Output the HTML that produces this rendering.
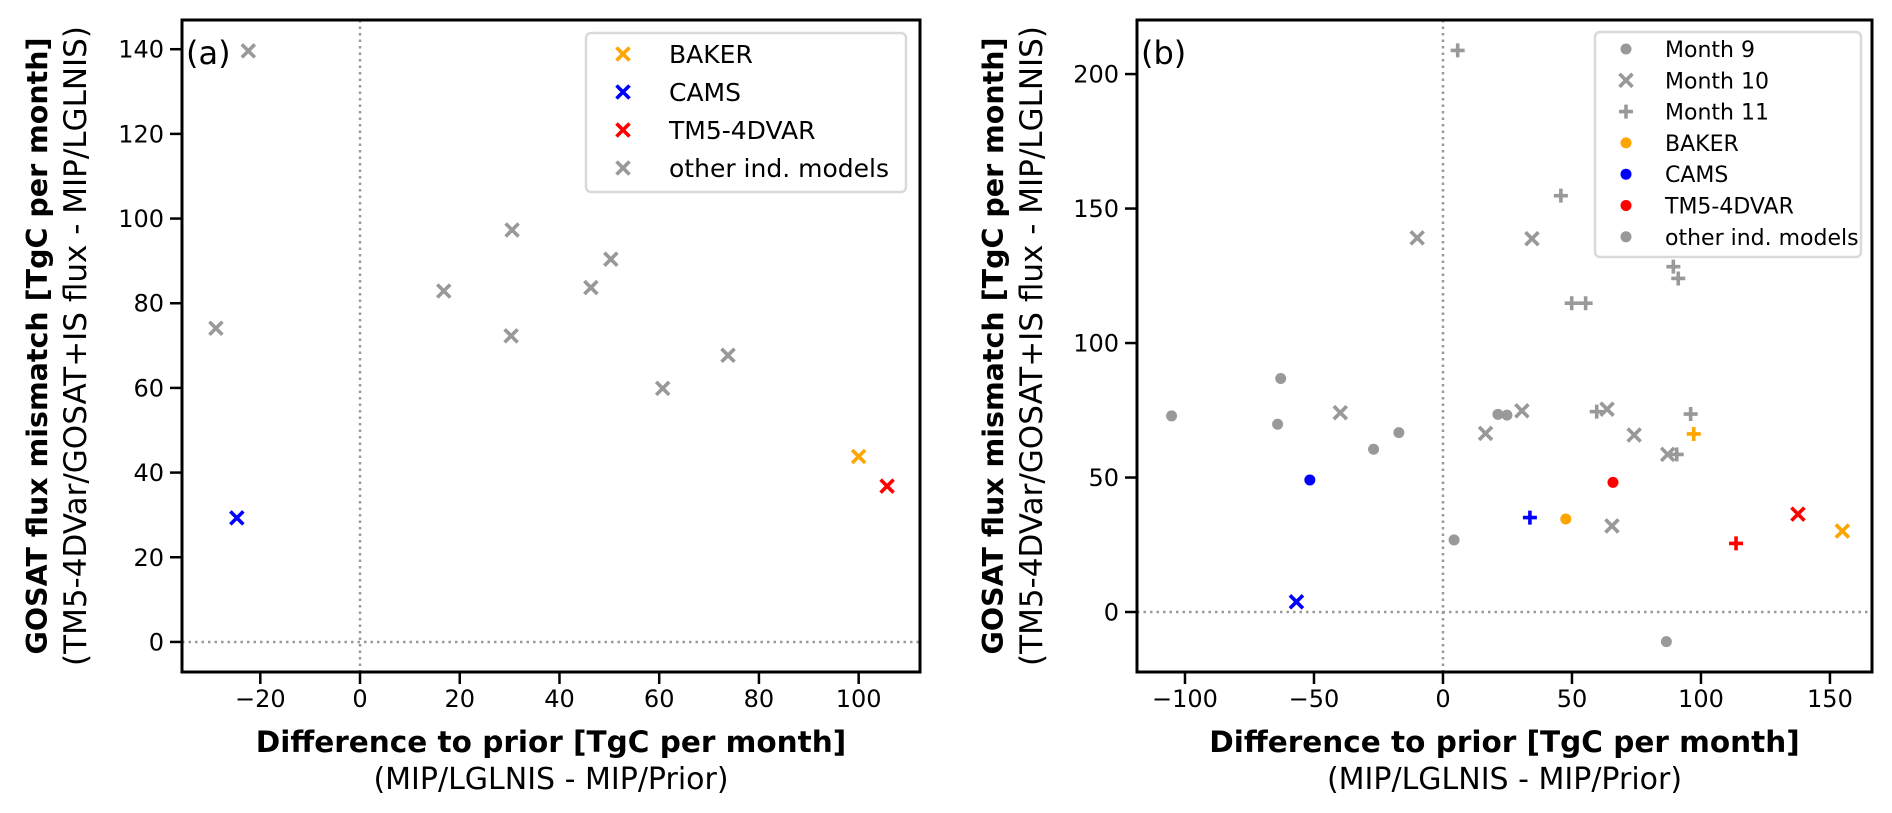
<!DOCTYPE html>
<html><head><meta charset="utf-8"><style>
html,body{margin:0;padding:0;background:#fff;}
svg{display:block;font-family:"DejaVu Sans","Liberation Sans",sans-serif;}
</style></head><body>
<svg id="fig" width="1892" height="813" viewBox="0 0 1892 813" xmlns="http://www.w3.org/2000/svg"></svg>
<script>
// ---- Panel (a) data ----
const aOtherX = [-22.4, -28.9, 16.8, 30.5, 30.3, 46.3, 50.3, 73.8, 60.7];
const aOtherY = [139.6, 74.1, 82.9, 97.3, 72.3, 83.7, 90.4, 67.7, 59.9];
const aModelNames = ["BAKER", "CAMS", "TM5-4DVAR"];
const aModelX = [100.0, -24.7, 105.7];
const aModelY = [43.8, 29.3, 36.8];
const aXTicks = [-20, 0, 20, 40, 60, 80, 100];
const aYTicks = [0, 20, 40, 60, 80, 100, 120, 140];

// ---- Panel (b) data ----  month: 9 = dot, 10 = x, 11 = plus
const bOtherX = [-105.2, -64.1, -62.9, -17.1, -26.9, 4.3, 21.3, 24.8, 86.6, -39.8, -10.0, 16.5, 30.6, 34.5, 63.6, 65.5, 74.1, 87.1, 5.7, 45.7, 49.9, 55.3, 59.6, 89.3, 91.2, 90.6, 96.0];
const bOtherY = [72.9, 69.8, 86.8, 66.7, 60.5, 26.8, 73.5, 73.2, -11.0, 74.1, 139.1, 66.4, 74.8, 138.8, 75.4, 32.0, 65.8, 58.6, 208.8, 154.8, 114.8, 114.8, 74.5, 128.4, 124.0, 58.6, 73.6];
const bOtherMonth = [9, 9, 9, 9, 9, 9, 9, 9, 9, 10, 10, 10, 10, 10, 10, 10, 10, 10, 11, 11, 11, 11, 11, 11, 11, 11, 11];
const bModelName = ["BAKER", "BAKER", "BAKER", "CAMS", "CAMS", "CAMS", "TM5-4DVAR", "TM5-4DVAR", "TM5-4DVAR"];
const bModelMonth = [9, 10, 11, 9, 10, 11, 9, 10, 11];
const bModelX = [47.6, 154.8, 97.2, -51.6, -56.8, 33.7, 65.9, 137.6, 113.6];
const bModelY = [34.6, 30.1, 66.2, 49.1, 3.8, 35.1, 48.2, 36.4, 25.5];
const bXTicks = [-100, -50, 0, 50, 100, 150];
const bYTicks = [0, 50, 100, 150, 200];

const COLORS = {"BAKER": "#ffa500", "CAMS": "#0000ff", "TM5-4DVAR": "#ff0000", "other": "#999999"};
const NS = "http://www.w3.org/2000/svg";
const svg = document.getElementById("fig");

function mk(tag, attrs, parent) {
  const e = document.createElementNS(NS, tag);
  for (const k in attrs) e.setAttribute(k, attrs[k]);
  (parent || svg).appendChild(e);
  return e;
}
function scale(d0, d1, r0, r1) { return v => r0 + (v - d0) / (d1 - d0) * (r1 - r0); }

function marker(g, kind, cx, cy, color) {
  let el;
  if (kind === 9) {
    el = mk("circle", {cx: cx, cy: cy, r: 5.5, fill: color}, g);
  } else if (kind === 10) {
    const s = 6.5;
    el = mk("path", {d: `M${cx - s},${cy - s}L${cx + s},${cy + s}M${cx - s},${cy + s}L${cx + s},${cy - s}`, stroke: color, "stroke-width": 3.6, fill: "none"}, g);
  } else {
    const s = 7;
    el = mk("path", {d: `M${cx - s},${cy}L${cx + s},${cy}M${cx},${cy - s}L${cx},${cy + s}`, stroke: color, "stroke-width": 3.6, fill: "none"}, g);
  }
  return el;
}

function axes(cfg) {
  const g = mk("g", {});
  
  
  const {L, R, T, B} = cfg;
  const x = scale(cfg.xmin, cfg.xmax, L, R);
  const y = scale(cfg.ymin, cfg.ymax, B, T);
  const zv = mk("line", {x1: x(0), x2: x(0), y1: T, y2: B, stroke: "#999", "stroke-width": 2.5, "stroke-dasharray": "2.5,4"}, g);
  
  
  const zh = mk("line", {x1: L, x2: R, y1: y(0), y2: y(0), stroke: "#999", "stroke-width": 2.5, "stroke-dasharray": "2.5,4"}, g);
  
  
  cfg.xTicks.forEach(t => {
    const tl = mk("line", {x1: x(t), x2: x(t), y1: B, y2: B + 12, stroke: "#000", "stroke-width": 2.5}, g);
    
    
    const tx = mk("text", {x: x(t), y: B + 35, "font-size": 24, "text-anchor": "middle", fill: "#000"}, g);
    tx.textContent = t < 0 ? "\u2212" + Math.abs(t) : String(t);
    
    
  });
  cfg.yTicks.forEach(t => {
    const tl = mk("line", {x1: L - 12, x2: L, y1: y(t), y2: y(t), stroke: "#000", "stroke-width": 2.5}, g);
    
    
    const tx = mk("text", {x: L - 18, y: y(t) + 8.5, "font-size": 24, "text-anchor": "end", fill: "#000"}, g);
    tx.textContent = String(t);
    
    
  });
  const cx = (L + R) / 2;
  const xl1 = mk("text", {x: cx, y: B + 80, "font-size": 29.5, "font-weight": "bold", "text-anchor": "middle"}, g);
  xl1.textContent = "Difference to prior [TgC per month]";
  
  
  const xl2 = mk("text", {x: cx, y: B + 117, "font-size": 30, "text-anchor": "middle"}, g);
  xl2.textContent = "(MIP/LGLNIS - MIP/Prior)";
  
  
  const cy = (T + B) / 2;
  const yl1 = mk("text", {x: 0, y: 0, "font-size": 28.5, "font-weight": "bold", "text-anchor": "middle", transform: `translate(${cfg.yl1},${cy}) rotate(-90)`}, g);
  yl1.textContent = "GOSAT flux mismatch [TgC per month]";
  
  
  const yl2 = mk("text", {x: 0, y: 0, "font-size": 31, "text-anchor": "middle", transform: `translate(${cfg.yl2},${cy}) rotate(-90)`}, g);
  yl2.textContent = "(TM5-4DVar/GOSAT+IS flux - MIP/LGLNIS)";
  
  
  const pl = mk("text", {x: L + 4, y: T + 44, "font-size": 32}, g);
  pl.textContent = cfg.letter;
  
  
  return {g, x, y, L, R, T, B};
}

// ---------------- Panel A ----------------
const A = axes({name: "panel-a", L: 182, R: 920, T: 20, B: 672, xmin: -35.7, xmax: 112.3, ymin: -7.1, ymax: 146.9,
  xTicks: aXTicks, yTicks: aYTicks, yl1: 47, yl2: 86, letter: "(a)"});
aOtherX.forEach((v, i) => {
  const m = marker(A.g, 10, A.x(v), A.y(aOtherY[i]), COLORS.other);
  
  
});
aModelX.forEach((v, i) => {
  const m = marker(A.g, 10, A.x(v), A.y(aModelY[i]), COLORS[aModelNames[i]]);
  
  
});
mk("rect", {x: A.L, y: A.T, width: A.R - A.L, height: A.B - A.T, fill: "none", stroke: "#000", "stroke-width": 3}, A.g);

const legA = mk("g", {}, A.g);


mk("rect", {x: 586, y: 33, width: 320, height: 159, rx: 5, fill: "#fff", "fill-opacity": 0.8, stroke: "#d9d9d9", "stroke-width": 2.5}, legA);
const legAItems = ["BAKER", "CAMS", "TM5-4DVAR", "other ind. models"];
const legAColors = [COLORS.BAKER, COLORS.CAMS, COLORS["TM5-4DVAR"], COLORS.other];
legAItems.forEach((t, i) => {
  const yy = 54 + i * 38;
  const m = marker(legA, 10, 623, yy, legAColors[i]);
  
  
  const tx = mk("text", {x: 669, y: yy + 9, "font-size": 25}, legA);
  tx.textContent = t;
  
  
});

// ---------------- Panel B ----------------
const Bp = axes({name: "panel-b", L: 1137, R: 1872, T: 20, B: 672, xmin: -118.6, xmax: 166.3, ymin: -22.3, ymax: 220.1,
  xTicks: bXTicks, yTicks: bYTicks, yl1: 1003, yl2: 1042, letter: "(b)"});
bOtherX.forEach((v, i) => {
  const m = marker(Bp.g, bOtherMonth[i], Bp.x(v), Bp.y(bOtherY[i]), COLORS.other);
  
  
});
bModelX.forEach((v, i) => {
  const m = marker(Bp.g, bModelMonth[i], Bp.x(v), Bp.y(bModelY[i]), COLORS[bModelName[i]]);
  
  
});
mk("rect", {x: Bp.L, y: Bp.T, width: Bp.R - Bp.L, height: Bp.B - Bp.T, fill: "none", stroke: "#000", "stroke-width": 3}, Bp.g);

const legB = mk("g", {}, Bp.g);


mk("rect", {x: 1595, y: 32, width: 266, height: 225, rx: 5, fill: "#fff", "fill-opacity": 0.8, stroke: "#d9d9d9", "stroke-width": 2.5}, legB);
const legBItems = ["Month 9", "Month 10", "Month 11", "BAKER", "CAMS", "TM5-4DVAR", "other ind. models"];
const legBKinds = [9, 10, 11, 9, 9, 9, 9];
const legBColors = [COLORS.other, COLORS.other, COLORS.other, COLORS.BAKER, COLORS.CAMS, COLORS["TM5-4DVAR"], COLORS.other];
legBItems.forEach((t, i) => {
  const yy = 49 + i * 31.3;
  const m = marker(legB, legBKinds[i], 1626, yy, legBColors[i]);
  
  
  const tx = mk("text", {x: 1665, y: yy + 8, "font-size": 22}, legB);
  tx.textContent = t;
  
  
});
</script>
</body></html>
